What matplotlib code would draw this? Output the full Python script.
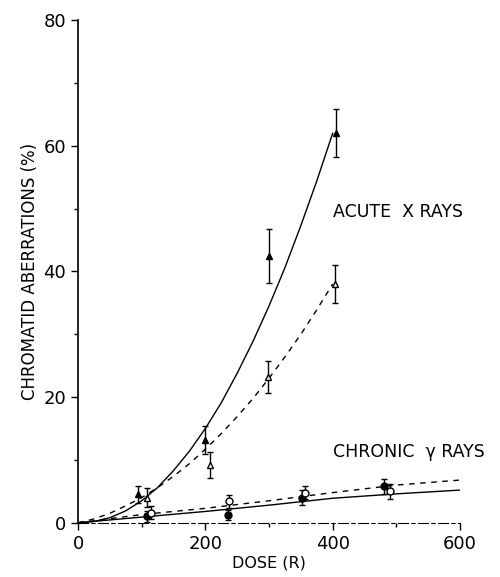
import numpy as np
import matplotlib
matplotlib.use("Agg")
import matplotlib.pyplot as plt
from matplotlib.ticker import MultipleLocator

doseAcuteFilled = [95, 200, 300, 405]
acuteFilled = [4.5, 13.2, 42.5, 62.0]
acuteFilledErr = [1.3, 2.2, 4.3, 3.8]
doseAcuteOpen = [108, 207, 298, 403]
acuteOpen = [4.0, 9.2, 23.2, 38.0]
acuteOpenErr = [1.5, 2.0, 2.6, 3.0]

doseChronicFilled = [108, 236, 352, 480]
chronicFilled = [1.0, 1.2, 4.0, 5.8]
chronicFilledErr = [0.8, 0.8, 1.2, 1.2]
doseChronicOpen = [115, 237, 357, 490]
chronicOpen = [1.6, 3.4, 4.8, 5.0]
chronicOpenErr = [1.0, 1.0, 1.0, 1.2]

# fitted curves as drawn in the figure
curveDoseAcute = [0, 25, 50, 75, 100, 125, 150, 175, 200, 225, 250, 275, 300, 325, 350, 375, 400]
acuteSolidCurve = [0, 0.2, 0.8, 1.9, 3.5, 5.6, 8.3, 11.4, 15.0, 19.1, 23.8, 28.9, 34.5, 40.6, 47.3, 54.4, 62.0]
acuteDashedCurve = [0, 0.6, 1.5, 2.7, 4.0, 5.6, 7.4, 9.4, 11.7, 14.2, 16.9, 19.8, 23.0, 26.4, 30.0, 33.9, 38.0]
curveDoseChronic = [0, 100, 200, 300, 400, 500, 600]
chronicSolidCurve = [0, 0.9, 1.8, 2.8, 3.9, 4.6, 5.2]
chronicDashedCurve = [0, 1.3, 2.3, 3.5, 4.8, 6.0, 6.8]

fig = plt.figure(figsize=(5, 5.77), dpi=100)
ax = fig.add_axes([0.156, 0.094, 0.764, 0.871])
ax.set_xlim(0, 600)
ax.set_ylim(0, 80)

ax.spines['top'].set_visible(False)
ax.spines['right'].set_visible(False)
ax.spines['bottom'].set_linestyle((0, (9, 3, 3, 3)))
ax.spines['left'].set_linewidth(1.2)

ax.xaxis.set_major_locator(MultipleLocator(200))
ax.xaxis.set_minor_locator(MultipleLocator(100))
ax.yaxis.set_major_locator(MultipleLocator(20))
ax.yaxis.set_minor_locator(MultipleLocator(10))
ax.tick_params(which='major', direction='out', length=5, width=1, labelsize=13)
ax.tick_params(which='minor', direction='out', length=3, width=1)

lw = 1.0
ax.plot(curveDoseAcute, acuteSolidCurve, color='black', lw=lw)
ax.plot(curveDoseAcute, acuteDashedCurve, color='black', lw=lw, dashes=(4, 4))
ax.plot(curveDoseChronic, chronicSolidCurve, color='black', lw=lw)
ax.plot(curveDoseChronic, chronicDashedCurve, color='black', lw=lw, dashes=(4, 4))

ekw = dict(ecolor='black', elinewidth=1, capsize=2.5, capthick=1, ls='none', ms=5, mec='black', mew=1)
ax.errorbar(doseAcuteFilled, acuteFilled, yerr=acuteFilledErr, fmt='^', mfc='black', **ekw)
ax.errorbar(doseAcuteOpen, acuteOpen, yerr=acuteOpenErr, fmt='^', mfc='white', **ekw)
ax.errorbar(doseChronicFilled, chronicFilled, yerr=chronicFilledErr, fmt='o', mfc='black', **ekw)
ax.errorbar(doseChronicOpen, chronicOpen, yerr=chronicOpenErr, fmt='o', mfc='white', **ekw)

ax.text(400, 49.5, 'ACUTE  X RAYS', fontsize=12.5, ha='left', va='center')
ax.text(400, 11.3, 'CHRONIC  γ RAYS', fontsize=12.5, ha='left', va='center')

ax.set_xlabel('DOSE (R)', fontsize=11.5, labelpad=2)
ax.set_ylabel('CHROMATID ABERRATIONS (%)', fontsize=12, labelpad=3)

fig.savefig('out.png', dpi=100)
